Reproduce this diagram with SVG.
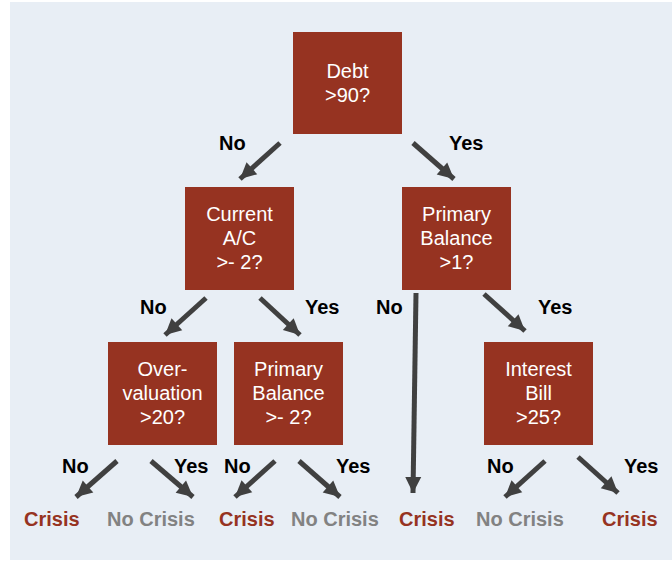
<svg xmlns="http://www.w3.org/2000/svg" width="672" height="561" viewBox="0 0 672 561">
<style>
.box{fill:#963321}
.nt{font-family:"Liberation Sans",Arial,sans-serif;font-size:20px;fill:#ffffff;text-anchor:middle}
.lb{font-family:"Liberation Sans",Arial,sans-serif;font-size:20px;font-weight:bold;fill:#000000}
.cr{font-family:"Liberation Sans",Arial,sans-serif;font-size:20px;font-weight:bold;fill:#963321}
.nc{font-family:"Liberation Sans",Arial,sans-serif;font-size:20px;font-weight:bold;fill:#828282}
.ar{stroke:#404040;stroke-width:5;fill:none;marker-end:url(#ah)}
</style>
<defs>
<marker id="ah" markerUnits="userSpaceOnUse" markerWidth="20" markerHeight="20" viewBox="0 0 20 20" refX="18" refY="10" orient="auto">
<path d="M2,2 L18,10 L2,18 Z" fill="#404040"/>
</marker>
</defs>
<rect x="0" y="0" width="672" height="561" fill="#ffffff"/>
<rect x="10" y="2" width="662" height="558" fill="#E8EEF5"/>
<g id="connectors">
<line class="ar" x1="280" y1="143" x2="240" y2="179"/>
<line class="ar" x1="413" y1="143" x2="454" y2="179"/>
<line class="ar" x1="206" y1="298" x2="165" y2="335"/>
<line class="ar" x1="260" y1="298" x2="300" y2="335"/>
<line class="ar" x1="416" y1="293" x2="413" y2="493"/>
<line class="ar" x1="484" y1="294" x2="525" y2="331"/>
<line class="ar" x1="117" y1="461" x2="76" y2="497"/>
<line class="ar" x1="151" y1="461" x2="193" y2="497"/>
<line class="ar" x1="275" y1="461" x2="235" y2="497"/>
<line class="ar" x1="299" y1="461" x2="340" y2="497"/>
<line class="ar" x1="545" y1="461" x2="505" y2="497"/>
<line class="ar" x1="578" y1="457" x2="618" y2="493"/>
</g>
<g id="labels">
<text class="lb" x="219" y="150">No</text>
<text class="lb" x="449" y="150">Yes</text>
<text class="lb" x="140" y="314">No</text>
<text class="lb" x="305" y="314">Yes</text>
<text class="lb" x="376" y="314">No</text>
<text class="lb" x="538" y="314">Yes</text>
<text class="lb" x="62" y="473">No</text>
<text class="lb" x="174" y="473">Yes</text>
<text class="lb" x="224" y="473">No</text>
<text class="lb" x="336" y="473">Yes</text>
<text class="lb" x="487" y="473">No</text>
<text class="lb" x="624" y="473">Yes</text>
</g>
<g id="node-debt">
<rect class="box" x="293" y="32" width="109" height="102"/>
<text class="nt" x="347.5" y="78">Debt</text>
<text class="nt" x="347.5" y="102">&gt;90?</text>
</g>
<g id="node-current">
<rect class="box" x="185" y="187" width="109" height="103"/>
<text class="nt" x="239.5" y="221">Current</text>
<text class="nt" x="239.5" y="245">A/C</text>
<text class="nt" x="239.5" y="269">&gt;- 2?</text>
</g>
<g id="node-primary1">
<rect class="box" x="402" y="187" width="109" height="103"/>
<text class="nt" x="456.5" y="221">Primary</text>
<text class="nt" x="456.5" y="245">Balance</text>
<text class="nt" x="456.5" y="269">&gt;1?</text>
</g>
<g id="node-over">
<rect class="box" x="108" y="342" width="109" height="103"/>
<text class="nt" x="162.5" y="376">Over-</text>
<text class="nt" x="162.5" y="400">valuation</text>
<text class="nt" x="162.5" y="424">&gt;20?</text>
</g>
<g id="node-primary2">
<rect class="box" x="234" y="342" width="109" height="103"/>
<text class="nt" x="288.5" y="376">Primary</text>
<text class="nt" x="288.5" y="400">Balance</text>
<text class="nt" x="288.5" y="424">&gt;- 2?</text>
</g>
<g id="node-interest">
<rect class="box" x="484" y="342" width="109" height="103"/>
<text class="nt" x="538.5" y="376">Interest</text>
<text class="nt" x="538.5" y="400">Bill</text>
<text class="nt" x="538.5" y="424">&gt;25?</text>
</g>
<g id="leaves">
<text class="cr" x="24" y="526">Crisis</text>
<text class="nc" x="107" y="526">No Crisis</text>
<text class="cr" x="219" y="526">Crisis</text>
<text class="nc" x="291" y="526">No Crisis</text>
<text class="cr" x="399" y="526">Crisis</text>
<text class="nc" x="476" y="526">No Crisis</text>
<text class="cr" x="602" y="526">Crisis</text>
</g>
</svg>
